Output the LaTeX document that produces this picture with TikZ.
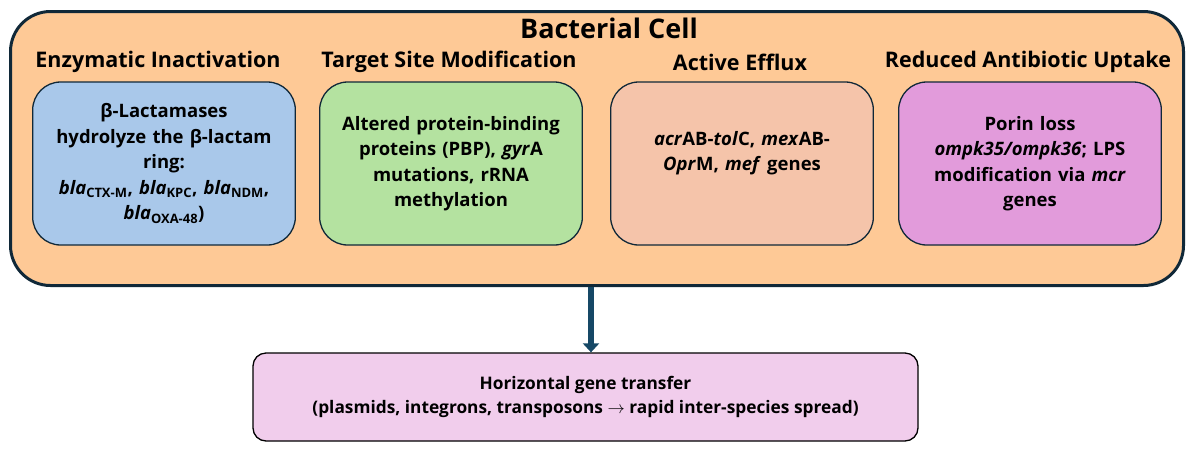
\documentclass[tikz,border=0pt]{standalone}
\usepackage{fontspec}
\setmainfont{Open Sans}
\usepackage{xcolor}
\usetikzlibrary{arrows.meta, positioning}
\definecolor{cellfill}{RGB}{254, 201, 150}
\definecolor{celldraw}{RGB}{16, 40, 56}
\definecolor{enzfill}{RGB}{169, 200, 234}
\definecolor{targetfill}{RGB}{180, 226, 160}
\definecolor{effluxfill}{RGB}{245, 196, 170}
\definecolor{uptakefill}{RGB}{226, 155, 219}
\definecolor{hgtfill}{RGB}{241, 205, 236}
\definecolor{arrowteal}{RGB}{22, 72, 102}

\tikzset{
  mechbox/.style={draw=celldraw, line width=1.3, rounded corners=28,
    minimum width=262, minimum height=163, align=center, text width=256,
    font=\bfseries\fontsize{18.5}{25.5}\selectfont},
  heading/.style={font=\bfseries\fontsize{21.5}{26}\selectfont},
}

\begin{document}
\begin{tikzpicture}[x=1pt, y=-1pt]
\useasboundingbox (0,0) rectangle (1194,451);

\node[draw=celldraw, fill=cellfill, line width=3, rounded corners=40,
  minimum width=1173, minimum height=274] (cell) at (597,148.5) {};
\node[font=\bfseries\fontsize{27}{32}\selectfont] (title) at (609,28) {Bacterial Cell};

\node[heading] (hdEnz) at (158,62) {Enzymatic Inactivation};
\node[heading] (hdTarget) at (449,62) {Target Site Modification};
\node[heading] (hdEfflux) at (740,62) {Active Efflux};
\node[heading] (hdUptake) at (1028,62) {Reduced Antibiotic Uptake};

\node[mechbox, fill=enzfill] (enz) at (164,163.5)
  {β-Lactamases\\hydrolyze the β-lactam\\ring:\\
   \textit{bla}\textsubscript{CTX-M}, \textit{bla}\textsubscript{KPC}, \textit{bla}\textsubscript{NDM},\\
   \textit{bla}\textsubscript{OXA-48})};
\node[mechbox, fill=targetfill] (target) at (451,163.5)
  {Altered protein-binding\\proteins (PBP), \textit{gyr}A\\mutations, rRNA\\methylation};
\node[mechbox, fill=effluxfill] (efflux) at (742,163.5)
  {\textit{acr}AB-\textit{tol}C, \textit{mex}AB-\\\textit{Opr}M, \textit{mef} genes\\\mbox{}};
\node[mechbox, fill=uptakefill] (uptake) at (1030,163.5)
  {Porin loss\\\textit{ompk35/ompk36}; LPS\\modification via \textit{mcr}\\genes};

\node[draw=black, fill=hgtfill, line width=1.3, rounded corners=13,
  minimum width=665, minimum height=88, align=center,
  font=\bfseries\fontsize{17.3}{24}\selectfont] (hgt) at (585.5,397)
  {Horizontal gene transfer\\(plasmids, integrons, transposons $\rightarrow$ rapid inter-species spread)};

\draw[arrowteal, line width=6, -{Triangle[width=16pt, length=9pt]}]
  ([xshift=-6pt]cell.south) -- ([xshift=5.5pt]hgt.north);

\end{tikzpicture}
\end{document}
